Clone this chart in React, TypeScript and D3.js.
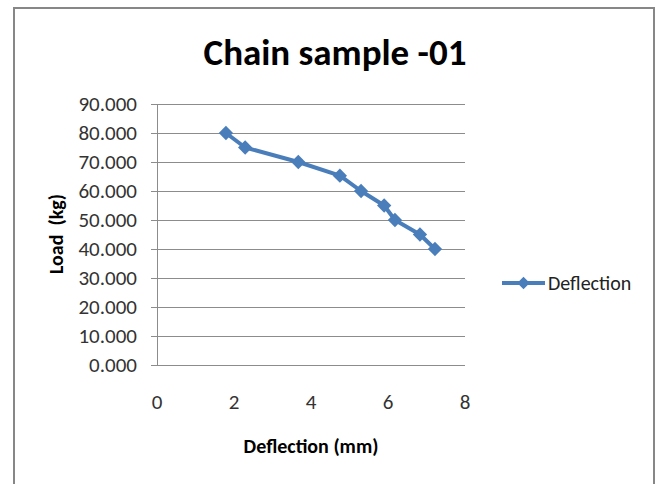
import React, { useEffect, useRef } from "react";
import * as d3 from "d3";

const deflection = [1.79, 2.29, 3.67, 4.75, 5.3, 5.9, 6.18, 6.83, 7.22];
const load = [80, 75, 70, 65.3, 60, 55, 50, 45, 40];
const yTicks = [0, 10, 20, 30, 40, 50, 60, 70, 80, 90];
const xTicks = [0, 2, 4, 6, 8];
const seriesName = "Deflection";

const W = 658;
const H = 484;
const font = "Carlito, 'Liberation Sans Narrow', 'Open Sans', sans-serif";

const App: React.FC = () => {
  const svgRef = useRef<SVGSVGElement | null>(null);

  useEffect(() => {
    if (!svgRef.current) return;
    const svg = d3.select(svgRef.current);
    svg.selectAll("*").remove();

    const margin = { top: 104, right: 193, bottom: 119, left: 157 };
    const plotW = W - margin.left - margin.right;
    const plotH = H - margin.top - margin.bottom;

    const x = d3.scaleLinear().domain([0, 8]).range([0, plotW]);
    const y = d3.scaleLinear().domain([0, 90]).range([plotH, 0]);

    // outer frame
    svg
      .append("path")
      .attr("d", `M14,${H + 2} V8 H654 V${H + 2}`)
      .attr("fill", "none")
      .attr("stroke", "#878787")
      .attr("stroke-width", 2);

    // title
    svg
      .append("text")
      .attr("x", 335)
      .attr("y", 65)
      .attr("text-anchor", "middle")
      .style("font-family", font)
      .style("font-size", "37px")
      .style("font-weight", "bold")
      .text("Chain sample -01");

    const g = svg
      .append("g")
      .attr("transform", `translate(${margin.left},${margin.top})`);

    // gridlines
    g.append("g")
      .selectAll("line")
      .data(yTicks)
      .enter()
      .append("line")
      .attr("x1", -6)
      .attr("x2", plotW)
      .attr("y1", (d) => Math.round(y(d)) + 0.5)
      .attr("y2", (d) => Math.round(y(d)) + 0.5)
      .attr("stroke", "#8c8c8c")
      .attr("stroke-width", 1);

    // y axis line
    g.append("line")
      .attr("x1", 0.5)
      .attr("x2", 0.5)
      .attr("y1", 0)
      .attr("y2", plotH)
      .attr("stroke", "#8c8c8c");

    // y tick labels
    g.append("g")
      .selectAll("text")
      .data(yTicks)
      .enter()
      .append("text")
      .attr("x", -20)
      .attr("y", (d) => y(d) + 7)
      .attr("text-anchor", "end")
      .style("font-family", font)
      .style("font-size", "21px")
      .attr("fill", "#333")
      .text((d) => d3.format(".3f")(d));

    // x tick labels
    g.append("g")
      .selectAll("text")
      .data(xTicks)
      .enter()
      .append("text")
      .attr("x", (d) => x(d))
      .attr("y", plotH + 44)
      .attr("text-anchor", "middle")
      .style("font-family", font)
      .style("font-size", "21px")
      .attr("fill", "#333")
      .text((d) => String(d));

    // axis titles
    svg
      .append("text")
      .attr("x", 311)
      .attr("y", 453)
      .attr("text-anchor", "middle")
      .style("font-family", font)
      .style("font-size", "20px")
      .style("font-weight", "bold")
      .text("Deflection (mm)");

    svg
      .append("text")
      .attr("transform", `translate(63,234) rotate(-90)`)
      .attr("text-anchor", "middle")
      .style("font-family", font)
      .style("font-size", "20px")
      .style("font-weight", "bold")
      .style("white-space", "pre")
      .text("Load  (kg)");

    const pts = deflection.map((d, i) => [d, load[i]] as [number, number]);
    const line = d3
      .line<[number, number]>()
      .x((d) => x(d[0]))
      .y((d) => y(d[1]));

    const color = "#4a7ebb";
    g.append("path")
      .datum(pts)
      .attr("d", line)
      .attr("fill", "none")
      .attr("stroke", color)
      .attr("stroke-width", 4)
      .attr("stroke-linejoin", "round");

    const diamond = d3.symbol().type(d3.symbolDiamond2).size(130);
    g.append("g")
      .selectAll("path")
      .data(pts)
      .enter()
      .append("path")
      .attr("d", diamond)
      .attr("transform", (d) => `translate(${x(d[0])},${y(d[1])})`)
      .attr("fill", color);

    // legend
    const lg = svg.append("g").attr("transform", "translate(502,283)");
    lg.append("line")
      .attr("x1", 0)
      .attr("x2", 43)
      .attr("y1", 0)
      .attr("y2", 0)
      .attr("stroke", color)
      .attr("stroke-width", 4);
    lg.append("path")
      .attr("d", d3.symbol().type(d3.symbolDiamond2).size(100))
      .attr("transform", "translate(21.5,0)")
      .attr("fill", color);
    lg.append("text")
      .attr("x", 46)
      .attr("y", 7)
      .style("font-family", font)
      .style("font-size", "20px")
      .attr("fill", "#222")
      .text(seriesName);
  }, []);

  return (
    <svg
      ref={svgRef}
      width={W}
      height={H}
      style={{ position: "absolute", left: 0, top: 0, background: "#fff" }}
    />
  );
};

export default App;
